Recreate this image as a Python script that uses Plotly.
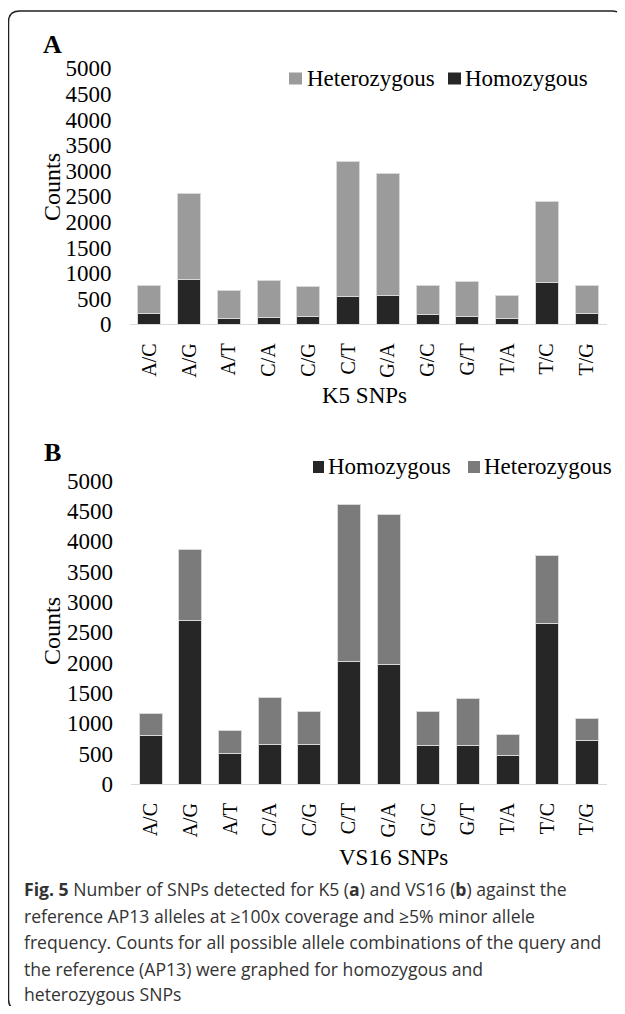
import plotly.graph_objects as go

# page offset: the browser body has an 8px margin, so the figure is sized to fit the window
OFF = 8
W, H = 625 - 2 * OFF, 1014 - 2 * OFF

categories = ["A/C", "A/G", "A/T", "C/A", "C/G", "C/T", "G/A", "G/C", "G/T", "T/A", "T/C", "T/G"]
k5_homozygous = [202, 866, 117, 130, 150, 540, 560, 182, 150, 111, 807, 215]
k5_heterozygous = [553, 1680, 534, 729, 592, 2637, 2383, 567, 683, 442, 1589, 534]
vs16_homozygous = [797, 2702, 500, 643, 643, 2027, 1967, 637, 632, 467, 2641, 725]
vs16_heterozygous = [357, 1165, 374, 775, 555, 2574, 2481, 566, 775, 352, 1127, 357]
y_ticks = [0, 500, 1000, 1500, 2000, 2500, 3000, 3500, 4000, 4500, 5000]

SERIF = "Liberation Serif, Times New Roman, serif"
SANS = "Open Sans, Noto Sans, sans-serif"
DARK = "#262626"
LIGHT_A = "#9b9b9b"
MID_B = "#7b7b7b"
EDGE = "#d8d8d8"


def px(x):
    return (x - OFF) / W


def py(y):
    return 1 - (y - OFF) / H


fig = go.Figure()

# Panel A
fig.add_trace(go.Bar(x=categories, y=k5_homozygous, name="Homozygous",
                     marker=dict(color=DARK, line=dict(color=EDGE, width=1)), xaxis="x", yaxis="y"))
fig.add_trace(go.Bar(x=categories, y=k5_heterozygous, name="Heterozygous",
                     marker=dict(color=LIGHT_A, line=dict(color=EDGE, width=1)), xaxis="x", yaxis="y"))
# Panel B
fig.add_trace(go.Bar(x=categories, y=vs16_homozygous, name="Homozygous",
                     marker=dict(color=DARK, line=dict(color=EDGE, width=1)), xaxis="x2", yaxis="y2"))
fig.add_trace(go.Bar(x=categories, y=vs16_heterozygous, name="Heterozygous",
                     marker=dict(color=MID_B, line=dict(color=EDGE, width=1)), xaxis="x2", yaxis="y2"))

xcommon = dict(showline=True, linecolor="#d9d9d9", linewidth=1, showgrid=False, zeroline=False,
               tickangle=-90, tickfont=dict(family=SERIF, size=20, color="black"), ticks="",
               ticklabelstandoff=10, automargin=False)
ycommon = dict(range=[0, 5000], tickvals=y_ticks, showgrid=False, zeroline=False, showline=False,
               tickfont=dict(family=SERIF, size=23, color="black"), ticks="", ticklabelstandoff=17,
               automargin=False)

fig.update_layout(
    template="none",
    width=W, height=H,
    margin=dict(l=0, r=0, t=0, b=0, pad=0),
    paper_bgcolor="white", plot_bgcolor="white",
    barmode="stack", bargap=0.42,
    showlegend=False,
    xaxis=dict(domain=[px(129.5), px(606.6)], anchor="y", **xcommon),
    yaxis=dict(domain=[py(324.3), py(68.3)], anchor="x", **ycommon),
    xaxis2=dict(domain=[px(131), px(606.6)], anchor="y2", **xcommon),
    yaxis2=dict(domain=[py(784), py(480.6)], anchor="x2", **ycommon),
)

ann = []
ann.append(dict(text="<b>A</b>", x=px(52), y=py(45), font=dict(family=SERIF, size=26, color="black")))
ann.append(dict(text="<b>B</b>", x=px(52), y=py(452), font=dict(family=SERIF, size=26, color="black")))
ann.append(dict(text="Counts", x=px(52), y=py(187), textangle=-90, font=dict(family=SERIF, size=24, color="black")))
ann.append(dict(text="Counts", x=px(52), y=py(631), textangle=-90, font=dict(family=SERIF, size=24, color="black")))
ann.append(dict(text="K5 SNPs", x=px(365), y=py(395), font=dict(family=SERIF, size=23, color="black")))
ann.append(dict(text="VS16 SNPs", x=px(393), y=py(857), font=dict(family=SERIF, size=23, color="black")))

# legends drawn as swatches + text
legend_items = [
    # (swatch left, swatch right, y center, color, label, text left)
    (289, 302, 78.5, LIGHT_A, "Heterozygous", 305),
    (448, 461, 78.5, DARK, "Homozygous", 463),
    (313, 324, 467, DARK, "Homozygous", 326),
    (468, 480, 467, MID_B, "Heterozygous", 482),
]
shapes = []
for sx0, sx1, sy, col, label, tx in legend_items:
    shapes.append(dict(type="rect", xref="paper", yref="paper", x0=px(sx0), x1=px(sx1),
                       y0=py(sy + 6), y1=py(sy - 6), fillcolor=col, line=dict(width=0)))
    ann.append(dict(text=label, x=px(tx), y=py(sy), xanchor="left",
                    font=dict(family=SERIF, size=23, color="black")))

caption_lines = [
    "<b>Fig. 5</b> Number of SNPs detected for K5 (<b>a</b>) and VS16 (<b>b</b>) against the",
    "reference AP13 alleles at ≥100x coverage and ≥5% minor allele",
    "frequency. Counts for all possible allele combinations of the query and",
    "the reference (AP13) were graphed for homozygous and",
    "heterozygous SNPs",
]
caption_y = [889, 915.5, 942, 968.5, 994]
for line, yy in zip(caption_lines, caption_y):
    ann.append(dict(text=line, x=px(23), y=py(yy), xanchor="left", borderpad=0,
                    font=dict(family=SANS, size=17.6, color="#333333")))

for a in ann:
    a.setdefault("xanchor", "center")
    a.update(xref="paper", yref="paper", yanchor="middle", showarrow=False)

# rounded frame
x0, x1, y0, y1, r = 8.5, 623, 11, 1010, 11
path = (f"M {px(x0)},{py(y0 + r)} L {px(x0)},{py(y1 - r)} Q {px(x0)},{py(y1)} {px(x0 + r)},{py(y1)} "
        f"L {px(x1 - r)},{py(y1)} Q {px(x1)},{py(y1)} {px(x1)},{py(y1 - r)} "
        f"L {px(x1)},{py(y0 + r)} Q {px(x1)},{py(y0)} {px(x1 - r)},{py(y0)} "
        f"L {px(x0 + r)},{py(y0)} Q {px(x0)},{py(y0)} {px(x0)},{py(y0 + r)} Z")
shapes.append(dict(type="path", path=path, xref="paper", yref="paper", line=dict(color="#222222", width=1.5)))

fig.update_layout(annotations=ann, shapes=shapes)

fig.write_html("out.html")
